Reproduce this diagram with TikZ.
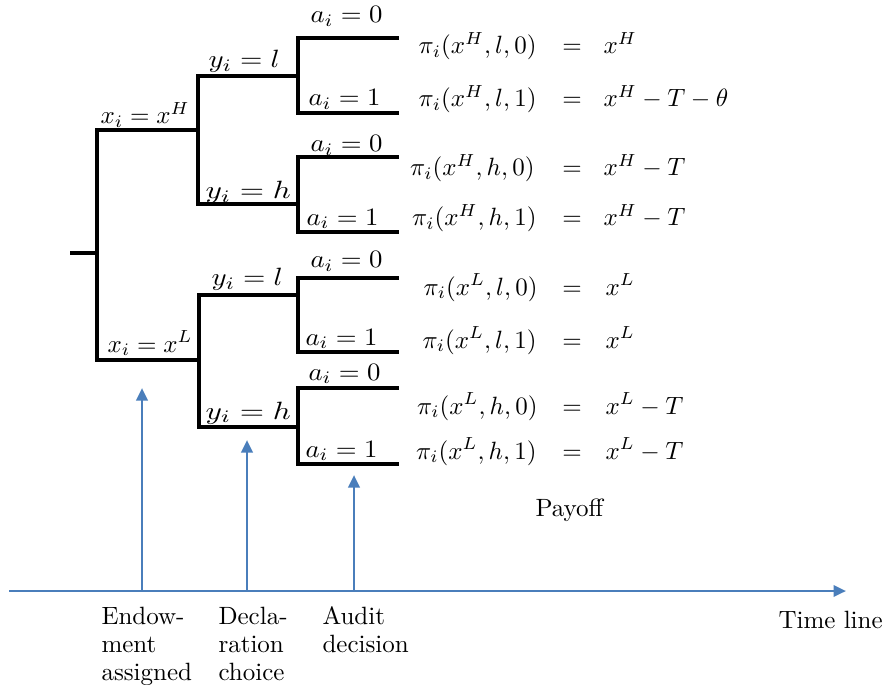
\documentclass[tikz,border=0pt]{standalone}
\usepackage{graphicx}
\usetikzlibrary{arrows.meta}
\definecolor{tlblue}{RGB}{74,126,187}
\begin{document}
\begin{tikzpicture}[x=0.4pt,y=-0.4pt,
  tree/.style={line width=1.8pt,line cap=rect},
  tl/.style={tlblue,line width=1.1pt,-{Triangle[length=5pt,width=4.5pt]}},
  lbl/.style={inner sep=0pt,anchor=base west},
  lhs/.style={inner sep=0pt,anchor=base east},
  rhs/.style={inner sep=0pt,anchor=base west},
  eqs/.style={inner sep=0pt,anchor=base},
  txt/.style={inner sep=0pt,anchor=base west,align=left}]
\useasboundingbox (0,0) rectangle (885,685);
% tree coordinates
\coordinate (r0) at (72,253);
\coordinate (r) at (97,253);
\coordinate (H) at (97,130);
\coordinate (L) at (97,360);
\coordinate (Hn) at (198,130);
\coordinate (Ln) at (199,360);
\coordinate (Hl) at (198,76);
\coordinate (Hh) at (198,204);
\coordinate (Ll) at (199,295);
\coordinate (Lh) at (199,427);
\coordinate (Hln) at (298,76);
\coordinate (Hhn) at (298,204);
\coordinate (Lln) at (298,295);
\coordinate (Lhn) at (298,427);
\coordinate (Hl0) at (298,38);
\coordinate (Hl1) at (298,113);
\coordinate (Hh0) at (298,157);
\coordinate (Hh1) at (298,232);
\coordinate (Ll0) at (298,278);
\coordinate (Ll1) at (298,352);
\coordinate (Lh0) at (298,388);
\coordinate (Lh1) at (298,464);
\coordinate (eHl0) at (397,38);
\coordinate (eHl1) at (397,113);
\coordinate (eHh0) at (397,157);
\coordinate (eHh1) at (397,232);
\coordinate (eLl0) at (397,278);
\coordinate (eLl1) at (397,352);
\coordinate (eLh0) at (397,388);
\coordinate (eLh1) at (397,464);
% tree lines
\draw[tree] (r0) -- (r);
\draw[tree] (Hn) -- (H) -- (L) -- (Ln);
\draw[tree] (Hln) -- (Hl) -- (Hh) -- (Hhn);
\draw[tree] (Lln) -- (Ll) -- (Lh) -- (Lhn);
\draw[tree] (eHl0) -- (Hl0) -- (Hl1) -- (eHl1);
\draw[tree] (eHh0) -- (Hh0) -- (Hh1) -- (eHh1);
\draw[tree] (eLl0) -- (Ll0) -- (Ll1) -- (eLl1);
\draw[tree] (eLh0) -- (Lh0) -- (Lh1) -- (eLh1);
% tree labels
\node[lbl] (xH) at (100,124) {$x_i=x^H$};
\node[lbl] (xL) at (107,352) {$x_i=x^L$};
\node[lbl] (yHl) at (208,68) {\scalebox{1.15}[1]{$y_i=l$}};
\node[lbl] (yHh) at (205,199) {\scalebox{1.25}[1]{$y_i=h$}};
\node[lbl] (yLl) at (211,286) {\scalebox{1.15}[1]{$y_i=l$}};
\node[lbl] (yLh) at (205,419) {\scalebox{1.25}[1]{$y_i=h$}};
\node[lbl] (a1) at (310,23) {\scalebox{1.07}[1]{$a_i=0$}};
\node[lbl] (a2) at (308,106) {\scalebox{1.07}[1]{$a_i=1$}};
\node[lbl] (a3) at (310,152) {\scalebox{1.07}[1]{$a_i=0$}};
\node[lbl] (a4) at (306,225) {\scalebox{1.07}[1]{$a_i=1$}};
\node[lbl] (a5) at (310,268) {\scalebox{1.07}[1]{$a_i=0$}};
\node[lbl] (a6) at (305,345) {\scalebox{1.07}[1]{$a_i=1$}};
\node[lbl] (a7) at (308,380) {\scalebox{1.07}[1]{$a_i=0$}};
\node[lbl] (a8) at (305,457) {\scalebox{1.07}[1]{$a_i=1$}};
% payoffs
\node[lhs] (p1) at (537,54) {$\pi_i(x^H,l,0)$};
\node[eqs] (q1) at (572,54) {$=$};
\node[rhs] (v1) at (603,54) {$x^H$};
\node[lhs] (p2) at (537,107) {$\pi_i(x^H,l,1)$};
\node[eqs] (q2) at (572,107) {$=$};
\node[rhs] (v2) at (603,107) {$x^H-T-\theta$};
\node[lhs] (p3) at (535,176) {$\pi_i(x^H,h,0)$};
\node[eqs] (q3) at (572,176) {$=$};
\node[rhs] (v3) at (603,176) {$x^H-T$};
\node[lhs] (p4) at (537,226) {$\pi_i(x^H,h,1)$};
\node[eqs] (q4) at (572,226) {$=$};
\node[rhs] (v4) at (603,226) {$x^H-T$};
\node[lhs] (p5) at (538,295) {$\pi_i(x^L,l,0)$};
\node[eqs] (q5) at (572,295) {$=$};
\node[rhs] (v5) at (605,295) {$x^L$};
\node[lhs] (p6) at (537,348) {$\pi_i(x^L,l,1)$};
\node[eqs] (q6) at (572,348) {$=$};
\node[rhs] (v6) at (605,348) {$x^L$};
\node[lhs] (p7) at (538,414) {$\pi_i(x^L,h,0)$};
\node[eqs] (q7) at (572,414) {$=$};
\node[rhs] (v7) at (605,414) {$x^L-T$};
\node[lhs] (p8) at (537,459) {$\pi_i(x^L,h,1)$};
\node[eqs] (q8) at (572,459) {$=$};
\node[rhs] (v8) at (605,459) {$x^L-T$};
\node[txt] (pay) at (535,516) {Payoff};
% time line
\coordinate (t0) at (9,591);
\coordinate (t1) at (846,591);
\coordinate (b1) at (142,591);
\coordinate (b2) at (247,591);
\coordinate (b3) at (354,591);
\coordinate (u1) at (142,388);
\coordinate (u2) at (247,440);
\coordinate (u3) at (354,475);
\draw[tl] (t0) -- (t1);
\draw[tl] (b1) -- (u1);
\draw[tl] (b2) -- (u2);
\draw[tl] (b3) -- (u3);
\node[txt] (tline) at (778,628) {Time line};
\node[txt] (e1) at (101,680) {Endow-\\[-0.8pt]ment\\[-0.8pt]assigned};
\node[txt] (e2) at (218,680) {Decla-\\[-0.8pt]ration\\[-0.8pt]choice};
\node[txt] (e3) at (322,652) {Audit\\[-0.8pt]decision};
\end{tikzpicture}
\end{document}
